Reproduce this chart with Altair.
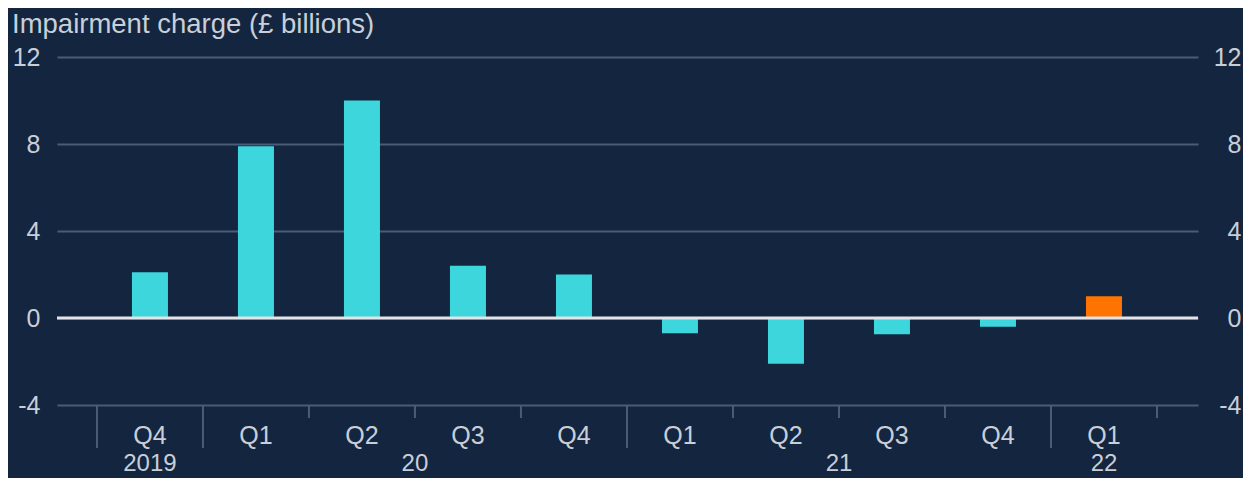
import altair as alt
import pandas as pd

# ---- data ----
quarters = ["Q4", "Q1", "Q2", "Q3", "Q4", "Q1", "Q2", "Q3", "Q4", "Q1"]
values = [2.1, 7.9, 10.0, 2.4, 2.0, -0.7, -2.1, -0.75, -0.4, 1.0]
highlight = [False, False, False, False, False, False, False, False, False, True]
year_labels = ["2019", "20", "21", "22"]
year_pos = [0, 2.5, 6.5, 9]
long_boundaries = [-0.5, 0.5, 4.5, 8.5]
short_boundaries = [1.5, 2.5, 3.5, 5.5, 6.5, 7.5, 9.5]
y_ticks = [-4, 0, 4, 8, 12]
title_text = "Impairment charge (£ billions)"

BG = "#14263f"
TEXT = "#c8cfd8"
GRID = "#4b5d76"
CYAN = "#3dd6dc"
ORANGE = "#ff7300"
FONT = "Liberation Sans"
FS = 25

W, H = 1141, 348

df = pd.DataFrame({
    "i": list(range(len(values))),
    "q": quarters,
    "v": values,
    "h": ["hl" if h else "base" for h in highlight],
})
years = pd.DataFrame({"pos": year_pos, "label": year_labels})
long_df = pd.DataFrame({"b": long_boundaries})
short_df = pd.DataFrame({"b": short_boundaries})
title_df = pd.DataFrame({"t": [title_text]})

xscale = alt.Scale(domain=[-0.877, 9.887], nice=False, zero=False, padding=0)
yscale = alt.Scale(domain=[-4, 12], nice=False, padding=0)

x_enc = alt.X("i:Q", scale=xscale, axis=None)

bars = alt.Chart(df).mark_bar(size=36).encode(
    x=x_enc,
    y=alt.Y("v:Q", scale=yscale,
            axis=alt.Axis(orient="left", values=y_ticks, grid=True, gridColor=GRID,
                          gridWidth=2, domain=False, ticks=False, tickSize=0,
                          labelPadding=17, labelAlign="right", labelFont=FONT,
                          labelFontSize=FS, labelColor=TEXT, title=None,
                          labelBaseline="middle", labelExpr="'' + datum.value")),
    color=alt.Color("h:N", scale=alt.Scale(domain=["base", "hl"], range=[CYAN, ORANGE]),
                    legend=None),
)

zero = alt.Chart(pd.DataFrame({"z": [0]})).mark_rule(color="#e2e4e8", strokeWidth=3).encode(
    y=alt.Y("z:Q", scale=yscale,
            axis=alt.Axis(orient="right", values=y_ticks, grid=False, domain=False,
                          ticks=False, tickSize=0, labelPadding=43, labelAlign="right",
                          labelFont=FONT, labelFontSize=FS, labelColor=TEXT, title=None,
                          labelBaseline="middle", labelExpr="'' + datum.value")),
    x=alt.value(0),
    x2=alt.value(W),
)

long_ticks = alt.Chart(long_df).mark_rule(color=GRID, strokeWidth=2).encode(
    x=alt.X("b:Q", scale=xscale, axis=None),
    y=alt.value(H),
    y2=alt.value(H + 43),
)
short_ticks = alt.Chart(short_df).mark_rule(color=GRID, strokeWidth=2).encode(
    x=alt.X("b:Q", scale=xscale, axis=None),
    y=alt.value(H),
    y2=alt.value(H + 13),
)

qlabels = alt.Chart(df).mark_text(font=FONT, fontSize=FS, color=TEXT, baseline="middle",
                                  align="center").encode(
    x=x_enc, y=alt.value(H + 31), text="q:N")

ylabels = alt.Chart(years).mark_text(font=FONT, fontSize=24, color=TEXT, baseline="middle",
                                     align="center").encode(
    x=alt.X("pos:Q", scale=xscale, axis=None), y=alt.value(H + 59), text="label:N")

title = alt.Chart(title_df).mark_text(font=FONT, fontSize=27.5, color=TEXT, align="left",
                                      baseline="alphabetic").encode(
    x=alt.value(-45), y=alt.value(-24), text="t:N")

chart = alt.layer(bars, zero, long_ticks, short_ticks, qlabels, ylabels, title).resolve_scale(
    y="shared").resolve_axis(y="independent").properties(
    width=W, height=H,
    autosize=alt.AutoSizeParams(type="none"),
    padding={"left": 49, "top": 49, "right": 45, "bottom": 73},
    background=BG,
).configure_view(stroke=None)

chart.save("out.html", embed_options={"renderer": "svg", "actions": False})
